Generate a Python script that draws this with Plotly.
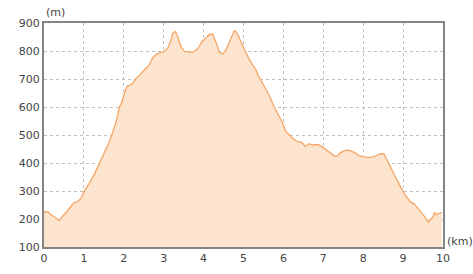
import plotly.graph_objects as go

distance_km = [0.0, 0.1, 0.18, 0.27, 0.39, 0.43, 0.52, 0.64, 0.75, 0.85, 0.93, 1.02, 1.14, 1.27, 1.39,
               1.52, 1.64, 1.72, 1.81, 1.89, 1.96, 2.02, 2.08, 2.16, 2.22, 2.31, 2.39, 2.48, 2.56, 2.64,
               2.72, 2.81, 2.89, 3.0, 3.1, 3.18, 3.23, 3.29, 3.35, 3.43, 3.52, 3.64, 3.72, 3.85, 3.96,
               4.06, 4.14, 4.23, 4.27, 4.35, 4.39, 4.48, 4.56, 4.64, 4.71, 4.77, 4.83, 4.89, 4.98, 5.06,
               5.14, 5.23, 5.31, 5.39, 5.52, 5.64, 5.77, 5.89, 5.98, 6.06, 6.14, 6.22, 6.35, 6.45, 6.55,
               6.64, 6.72, 6.85, 6.93, 7.06, 7.18, 7.29, 7.35, 7.43, 7.52, 7.6, 7.68, 7.79, 7.89, 8.0,
               8.1, 8.18, 8.31, 8.43, 8.52, 8.58, 8.69, 8.81, 8.94, 9.06, 9.18, 9.27, 9.38, 9.48, 9.56,
               9.63, 9.69, 9.75, 9.79, 9.83, 9.89, 9.97]
elevation_m = [225, 225, 214, 207, 194, 204, 218, 238, 258, 263, 275, 302, 328, 362, 400,
               442, 477, 509, 549, 600, 620, 652, 674, 678, 685, 703, 712, 727, 741, 751,
               775, 787, 793, 797, 810, 838, 864, 870, 852, 816, 799, 796, 795, 807, 834,
               846, 859, 860, 846, 816, 796, 789, 804, 828, 852, 872, 866, 846, 819, 795,
               771, 751, 733, 707, 674, 644, 600, 566, 543, 513, 502, 490, 476, 475, 459,
               469, 465, 466, 462, 448, 435, 424, 425, 437, 443, 447, 443, 437, 427, 422,
               421, 419, 425, 433, 433, 415, 385, 350, 314, 284, 262, 255, 237, 219, 205,
               188, 198, 209, 224, 215, 219, 224]

x_ticks = [0, 1, 2, 3, 4, 5, 6, 7, 8, 9, 10]
y_ticks = [100, 200, 300, 400, 500, 600, 700, 800, 900]

fig = go.Figure()
fig.add_trace(go.Scatter(
    x=distance_km, y=elevation_m, mode="lines",
    line=dict(color="#f5a665", width=1.3),
    fill="tozeroy", fillcolor="#fde4cf",
    hoverinfo="skip",
))

font = dict(family="DejaVu Sans", size=11, color="#444444")
fig.update_layout(
    width=473, height=274,
    margin=dict(l=44, r=30, t=23, b=27, pad=0),
    paper_bgcolor="white", plot_bgcolor="white",
    showlegend=False,
    font=font,
    xaxis=dict(range=[0, 10], tickvals=x_ticks, ticks="", showgrid=True,
               gridcolor="#c0c0c0", griddash="dot", gridwidth=1,
               showline=True, linecolor="#858585", linewidth=2, mirror=True,
               zeroline=False, ticklabelstandoff=0, tickfont=font, automargin=False),
    yaxis=dict(range=[100, 900], tickvals=y_ticks, ticks="", showgrid=True,
               gridcolor="#c0c0c0", griddash="dot", gridwidth=1,
               showline=True, linecolor="#858585", linewidth=2, mirror=True,
               zeroline=False, ticklabelstandoff=0, tickfont=font, automargin=False),
    annotations=[
        dict(text="(m)", xref="paper", yref="paper", x=0, y=1, xanchor="left",
             yanchor="bottom", yshift=2, showarrow=False, font=font),
        dict(text="(km)", xref="paper", yref="paper", x=1, y=0, xanchor="left",
             yanchor="bottom", xshift=2, yshift=-3, showarrow=False, font=font),
    ],
)

fig.write_html("out.html")
